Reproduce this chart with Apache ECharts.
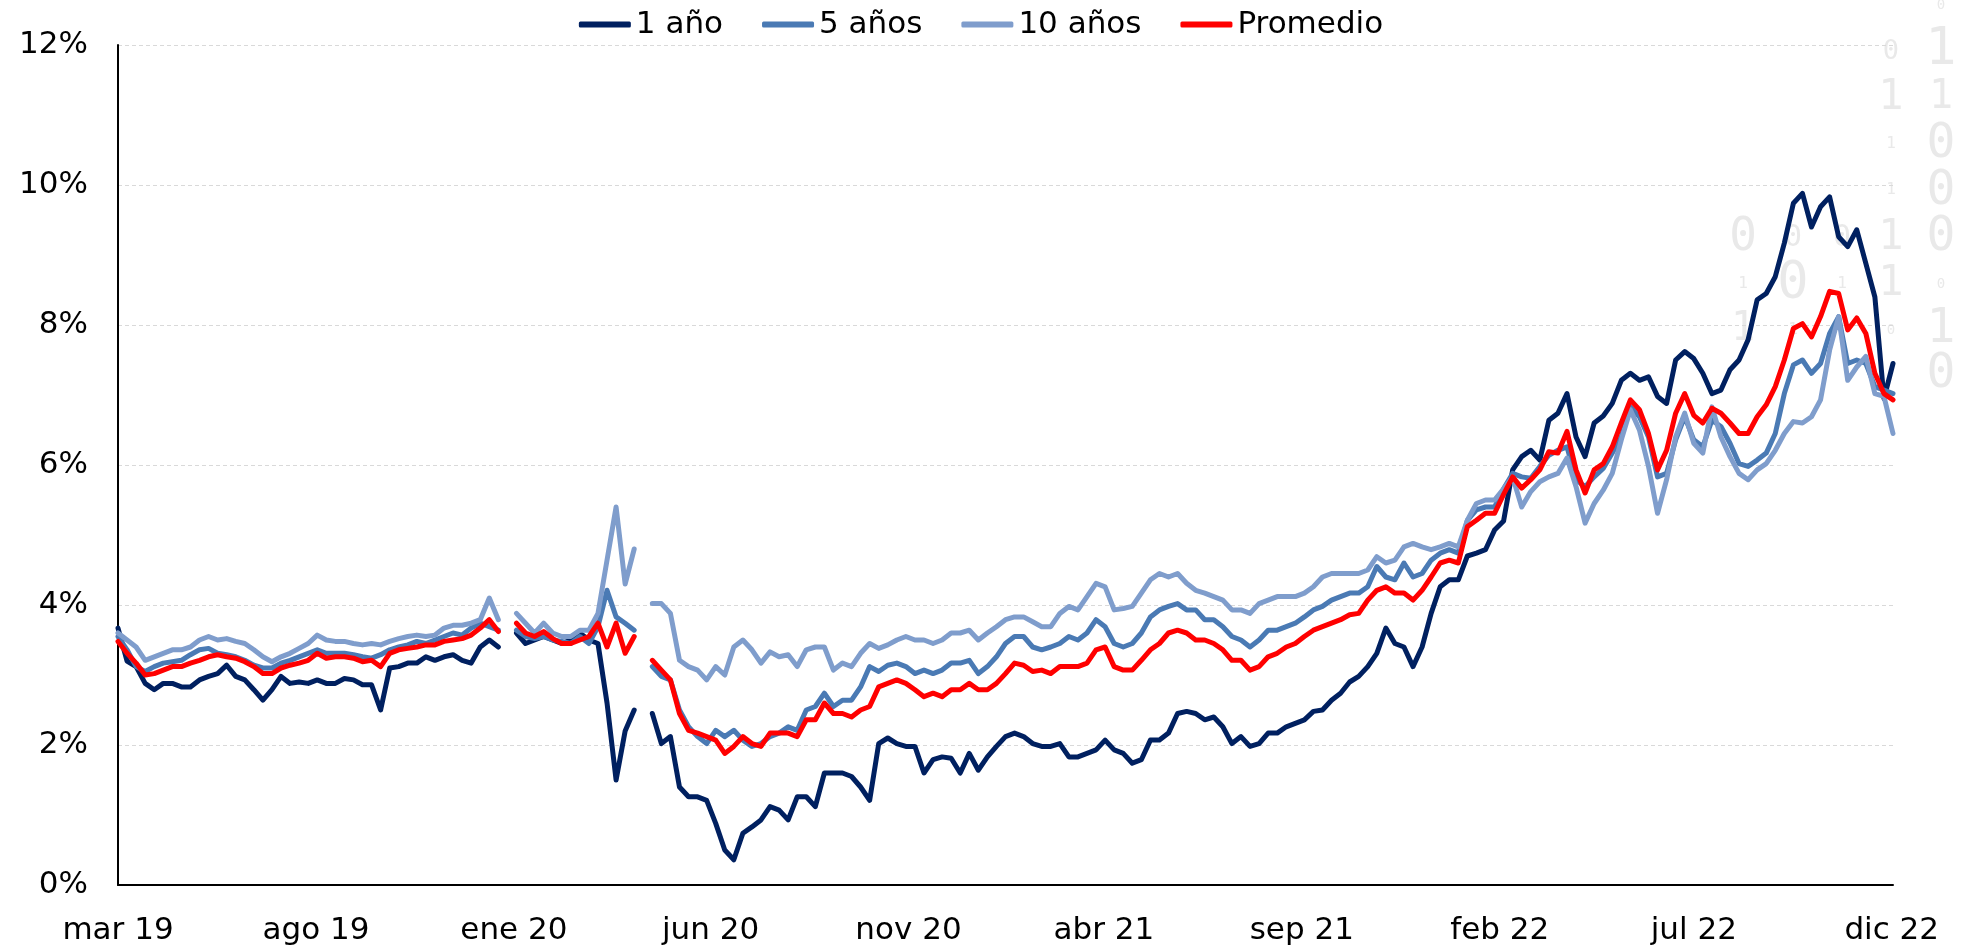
<!DOCTYPE html>
<html>
<head>
<meta charset="utf-8">
<script src="https://cdn.jsdelivr.net/npm/echarts@6/dist/echarts.min.js"></script>
<style>
  html, body { margin: 0; padding: 0; background: #fff; }
  #chart { width: 1962px; height: 947px; }
</style>
</head>
<body>
<div id="chart"></div>
<script>
// tasas semanales desde mar 2019 (en %)
var startDate = [2019, 2, 1];
var stepDays = 7;

var oneYear = [
  3.67, 3.2, 3.12, 2.88, 2.79, 2.88, 2.88, 2.83, 2.83, 2.93,
  2.98, 3.02, 3.14, 2.98, 2.93, 2.79, 2.64, 2.79, 2.98, 2.88,
  2.9, 2.88, 2.93, 2.88, 2.88, 2.95, 2.93, 2.86, 2.86, 2.5,
  3.1, 3.12, 3.17, 3.17, 3.26, 3.21, 3.26, 3.29, 3.21, 3.17,
  3.4, 3.5, 3.4, null, 3.6, 3.45, 3.5, 3.55, 3.5, 3.45,
  3.5, 3.6, 3.5, 3.45, 2.6, 1.5, 2.2, 2.5, null, 2.45,
  2.02, 2.12, 1.4, 1.26, 1.26, 1.21, 0.88, 0.5, 0.36, 0.74,
  0.83, 0.93, 1.12, 1.07, 0.93, 1.26, 1.26, 1.12, 1.6, 1.6,
  1.6, 1.55, 1.4, 1.21, 2.02, 2.1, 2.02, 1.98, 1.98, 1.6,
  1.79, 1.83, 1.81, 1.6, 1.88, 1.64, 1.83, 1.98, 2.12, 2.17,
  2.12, 2.02, 1.98, 1.98, 2.02, 1.83, 1.83, 1.88, 1.93, 2.07,
  1.93, 1.88, 1.74, 1.79, 2.07, 2.07, 2.17, 2.45, 2.48, 2.45,
  2.36, 2.4, 2.26, 2.02, 2.12, 1.98, 2.02, 2.17, 2.17, 2.26,
  2.31, 2.36, 2.48, 2.5, 2.64, 2.74, 2.9, 2.98, 3.12, 3.31,
  3.67, 3.45, 3.4, 3.12, 3.4, 3.88, 4.26, 4.36, 4.36, 4.7,
  4.74, 4.79, 5.07, 5.2, 5.93, 6.12, 6.21, 6.07, 6.64, 6.74,
  7.02, 6.4, 6.12, 6.6, 6.7, 6.88, 7.21, 7.31, 7.21, 7.26,
  6.98, 6.88, 7.5, 7.62, 7.52, 7.31, 7.02, 7.07, 7.36, 7.5,
  7.79, 8.36, 8.45, 8.69, 9.17, 9.74, 9.88, 9.4, 9.69, 9.83,
  9.26, 9.12, 9.36, 8.88, 8.4, 6.95, 7.45
];

var fiveYears = [
  3.55, 3.36, 3.12, 3.05, 3.12, 3.17, 3.19, 3.21, 3.29, 3.36,
  3.38, 3.31, 3.29, 3.26, 3.21, 3.14, 3.1, 3.1, 3.17, 3.21,
  3.26, 3.31, 3.36, 3.31, 3.31, 3.31, 3.29, 3.26, 3.24, 3.29,
  3.36, 3.4, 3.43, 3.48, 3.45, 3.5, 3.55, 3.6, 3.57, 3.67,
  3.74, 3.69, 3.64, null, 3.64, 3.55, 3.52, 3.55, 3.5, 3.48,
  3.45, 3.55, 3.45, 3.69, 4.21, 3.83, 3.74, 3.64, null, 3.12,
  2.98, 2.93, 2.5, 2.26, 2.12, 2.02, 2.21, 2.12, 2.21, 2.07,
  1.98, 2.02, 2.12, 2.17, 2.26, 2.21, 2.5, 2.55, 2.74, 2.55,
  2.64, 2.64, 2.83, 3.12, 3.05, 3.14, 3.17, 3.12, 3.02, 3.07,
  3.02, 3.07, 3.17, 3.17, 3.21, 3.02, 3.12, 3.26, 3.45, 3.55,
  3.55, 3.4, 3.36, 3.4, 3.45, 3.55, 3.5, 3.6, 3.79, 3.69,
  3.45, 3.4, 3.45, 3.6, 3.83, 3.93, 3.98, 4.02, 3.93, 3.93,
  3.79, 3.79, 3.69, 3.55, 3.5, 3.4, 3.5, 3.64, 3.64, 3.69,
  3.74, 3.83, 3.93, 3.98, 4.07, 4.12, 4.17, 4.17, 4.26, 4.55,
  4.4, 4.36, 4.6, 4.4, 4.45, 4.64, 4.74, 4.79, 4.74, 5.21,
  5.36, 5.4, 5.4, 5.66, 5.88, 5.83, 5.81, 5.98, 6.14, 6.21,
  6.26, 5.79, 5.69, 5.83, 5.95, 6.17, 6.4, 6.83, 6.69, 6.4,
  5.83, 5.88, 6.36, 6.69, 6.36, 6.26, 6.64, 6.55, 6.31, 6.02,
  5.98, 6.07, 6.17, 6.45, 7.02, 7.43, 7.5, 7.31, 7.45, 7.88,
  8.12, 7.45, 7.5, 7.45, 7.12, 7.07, 7.02
];

var tenYears = [
  3.6, 3.5, 3.4, 3.21, 3.26, 3.31, 3.36, 3.36, 3.4, 3.5,
  3.55, 3.5, 3.52, 3.48, 3.45, 3.36, 3.26, 3.19, 3.26, 3.31,
  3.38, 3.45, 3.57, 3.5, 3.48, 3.48, 3.45, 3.43, 3.45, 3.43,
  3.48, 3.52, 3.55, 3.57, 3.55, 3.57, 3.67, 3.71, 3.71, 3.74,
  3.79, 4.1, 3.79, null, 3.88, 3.74, 3.6, 3.74, 3.6, 3.55,
  3.55, 3.64, 3.64, 3.88, 4.64, 5.4, 4.3, 4.8, null, 4.02,
  4.02, 3.88, 3.21, 3.12, 3.07, 2.93, 3.12, 3.0, 3.4, 3.5,
  3.36, 3.17, 3.33, 3.26, 3.29, 3.12, 3.36, 3.4, 3.4, 3.07,
  3.17, 3.12, 3.31, 3.45, 3.38, 3.43, 3.5, 3.55, 3.5, 3.5,
  3.45, 3.5, 3.6, 3.6, 3.64, 3.5, 3.6, 3.69, 3.79, 3.83,
  3.83, 3.76, 3.69, 3.69, 3.88, 3.98, 3.93, 4.12, 4.31, 4.26,
  3.93, 3.95, 3.98, 4.17, 4.36, 4.45, 4.4, 4.45, 4.31, 4.21,
  4.17, 4.12, 4.07, 3.93, 3.93, 3.88, 4.02, 4.07, 4.12, 4.12,
  4.12, 4.17, 4.26, 4.4, 4.45, 4.45, 4.45, 4.45, 4.5, 4.69,
  4.6, 4.64, 4.83, 4.88, 4.83, 4.79, 4.83, 4.88, 4.83, 5.21,
  5.45, 5.5, 5.5, 5.66, 5.83, 5.4, 5.62, 5.76, 5.83, 5.88,
  6.1, 5.69, 5.17, 5.45, 5.64, 5.88, 6.36, 6.79, 6.5, 5.98,
  5.31, 5.79, 6.4, 6.74, 6.31, 6.17, 6.83, 6.4, 6.12, 5.88,
  5.79, 5.93, 6.02, 6.21, 6.45, 6.62, 6.6, 6.69, 6.93, 7.64,
  8.12, 7.21, 7.4, 7.55, 7.02, 6.98, 6.45
];

var average = [
  3.48, 3.31, 3.17, 3.0, 3.02, 3.07, 3.12, 3.12, 3.17, 3.21,
  3.26, 3.29, 3.26, 3.24, 3.19, 3.12, 3.02, 3.02, 3.1, 3.14,
  3.17, 3.21, 3.31, 3.24, 3.26, 3.26, 3.24, 3.19, 3.21, 3.12,
  3.31, 3.36, 3.38, 3.4, 3.43, 3.43, 3.48, 3.5, 3.52, 3.57,
  3.67, 3.79, 3.62, null, 3.74, 3.6, 3.55, 3.62, 3.52, 3.45,
  3.45, 3.5, 3.55, 3.74, 3.4, 3.74, 3.31, 3.55, null, 3.21,
  3.07, 2.93, 2.45, 2.21, 2.17, 2.12, 2.07, 1.88, 1.98, 2.12,
  2.02, 1.98, 2.17, 2.17, 2.17, 2.12, 2.36, 2.36, 2.6, 2.45,
  2.45, 2.4, 2.5, 2.55, 2.83, 2.88, 2.93, 2.88, 2.79, 2.69,
  2.74, 2.69, 2.79, 2.79, 2.88, 2.79, 2.79, 2.88, 3.02, 3.17,
  3.14, 3.05, 3.07, 3.02, 3.12, 3.12, 3.12, 3.17, 3.36, 3.4,
  3.12, 3.07, 3.07, 3.21, 3.36, 3.45, 3.6, 3.64, 3.6, 3.5,
  3.5, 3.45, 3.36, 3.21, 3.21, 3.07, 3.12, 3.26, 3.31, 3.4,
  3.45, 3.55, 3.64, 3.69, 3.74, 3.79, 3.86, 3.88, 4.07, 4.21,
  4.26, 4.17, 4.17, 4.07, 4.21, 4.4, 4.6, 4.64, 4.6, 5.12,
  5.21, 5.31, 5.31, 5.58, 5.83, 5.67, 5.79, 5.93, 6.19, 6.17,
  6.48, 5.93, 5.6, 5.93, 6.02, 6.26, 6.6, 6.93, 6.79, 6.45,
  5.93, 6.21, 6.74, 7.02, 6.71, 6.6, 6.81, 6.74, 6.6, 6.45,
  6.45, 6.69, 6.86, 7.12, 7.5, 7.95, 8.02, 7.83, 8.12, 8.48,
  8.45, 7.93, 8.1, 7.88, 7.31, 7.02, 6.93
];

var tickDates = ['2019-03-01', '2019-08-01', '2020-01-01', '2020-06-01', '2020-11-01',
                 '2021-04-01', '2021-09-01', '2022-02-01', '2022-07-01', '2022-12-01'];
var tickLabels = ['mar 19', 'ago 19', 'ene 20', 'jun 20', 'nov 20',
                  'abr 21', 'sep 21', 'feb 22', 'jul 22', 'dic 22'];

// marca de agua binaria (decorativa) a la derecha
var watermark = [
  [1941, 5, '0', 14], [1941, 50, '1', 52], [1941, 98, '1', 40], [1941, 145, '0', 48],
  [1941, 192, '0', 48], [1941, 238, '0', 48], [1941, 284, '0', 14], [1941, 330, '1', 48],
  [1941, 375, '0', 48],
  [1891, 52, '0', 27], [1891, 98, '1', 42], [1891, 144, '1', 16], [1891, 190, '1', 16],
  [1891, 238, '1', 42], [1891, 284, '1', 42], [1891, 330, '0', 14],
  [1842, 238, '0', 30], [1842, 284, '1', 16],
  [1793, 238, '0', 30], [1793, 284, '0', 52], [1793, 330, '1', 16],
  [1743, 238, '0', 46], [1743, 284, '1', 16], [1743, 330, '1', 40]
];

function toTime(s) {
  var p = s.split('-');
  return new Date(+p[0], +p[1] - 1, +p[2]).getTime();
}

var tickValues = tickDates.map(toTime);

function pairs(values) {
  var out = [];
  for (var i = 0; i < values.length; i++) {
    var d = new Date(startDate[0], startDate[1], startDate[2] + i * stepDays);
    out.push([d.getTime(), values[i]]);
  }
  return out;
}

var fontFam = 'DejaVu Sans';

var graphics = watermark.map(function (w) {
  return {
    type: 'text',
    x: w[0],
    y: w[1],
    z: 0,
    silent: true,
    style: {
      text: w[2],
      font: w[3] + 'px "DejaVu Sans Mono"',
      fill: '#e9e9e9',
      align: 'center',
      verticalAlign: 'middle'
    }
  };
});

var myChart = echarts.init(document.getElementById('chart'));

function lineSeries(name, values, color) {
  return {
    name: name,
    type: 'line',
    data: pairs(values),
    symbol: 'none',
    connectNulls: false,
    z: 3,
    lineStyle: { color: color, width: 5, cap: 'round', join: 'round' },
    itemStyle: { color: color }
  };
}

var firstX = pairs(oneYear)[0][0];
var lastX = pairs(oneYear)[oneYear.length - 1][0];

var option = {
  animation: false,
  backgroundColor: '#fff',
  graphic: graphics,
  legend: {
    top: 4,
    left: 'center',
    icon: 'roundRect',
    itemWidth: 52,
    itemHeight: 6,
    itemGap: 39,
    textStyle: { fontFamily: fontFam, fontSize: 31, color: '#000' },
    data: ['1 año', '5 años', '10 años', 'Promedio']
  },
  grid: { left: 118, right: 69, top: 45, bottom: 62, containLabel: false },
  xAxis: {
    type: 'value',
    min: firstX,
    max: lastX,
    axisLine: { show: true, lineStyle: { color: '#000', width: 2 } },
    axisTick: { show: false },
    splitLine: { show: false },
    axisLabel: {
      customValues: tickValues,
      showMinLabel: true,
      showMaxLabel: true,
      margin: 30,
      fontFamily: fontFam,
      fontSize: 31,
      color: '#000',
      formatter: function (v) {
        var i = tickValues.indexOf(v);
        if (i >= 0) return tickLabels[i];
        var d = new Date(v);
        var m = ['ene','feb','mar','abr','may','jun','jul','ago','sep','oct','nov','dic'];
        return m[d.getMonth()] + ' ' + String(d.getFullYear()).slice(2);
      }
    }
  },
  yAxis: {
    type: 'value',
    min: 0,
    max: 12,
    interval: 2,
    axisLine: { show: true, lineStyle: { color: '#000', width: 2 } },
    axisTick: { show: false },
    splitLine: { show: true, lineStyle: { color: '#d9d9d9', width: 1, type: [4, 3] } },
    axisLabel: {
      margin: 30,
      fontFamily: fontFam,
      fontSize: 31,
      color: '#000',
      formatter: '{value}%'
    }
  },
  series: [
    lineSeries('1 año', oneYear, '#002060'),
    lineSeries('5 años', fiveYears, '#4a7ab4'),
    lineSeries('10 años', tenYears, '#7f9dcc'),
    lineSeries('Promedio', average, '#ff0000')
  ]
};

myChart.setOption(option);
</script>
</body>
</html>
